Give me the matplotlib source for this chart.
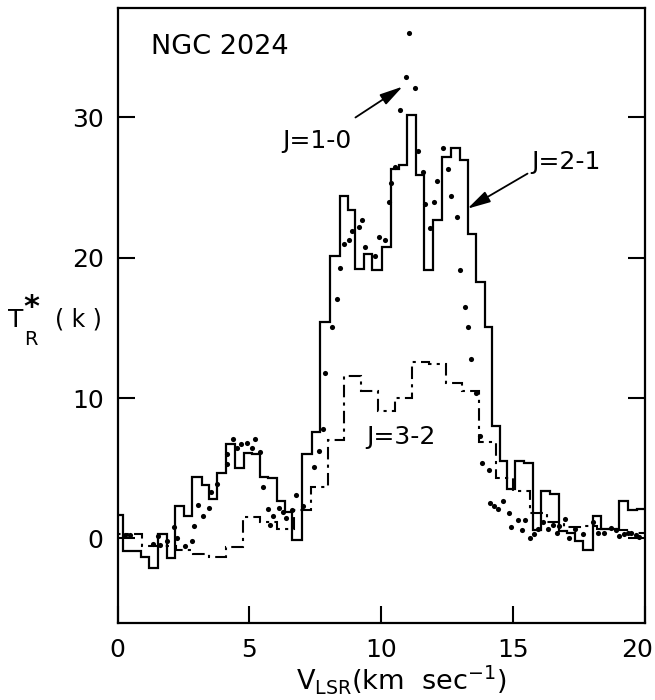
import matplotlib
matplotlib.use("Agg")
import matplotlib.pyplot as plt
from matplotlib.transforms import ScaledTranslation

plt.rcParams['font.family'] = ['DejaVu Sans']
plt.rcParams['mathtext.default'] = 'regular'

# J=2-1 spectrum (solid histogram): channel edges (km/s) and T_R* (K)
edges_21 = [-0.10, 0.22, 0.55, 0.88, 1.21, 1.53, 1.88, 2.20, 2.51, 2.84, 3.19,
            3.47, 3.79, 4.12, 4.45, 4.79, 5.10, 5.39, 5.72, 6.05, 6.37, 6.64,
            7.02, 7.39, 7.68, 8.05, 8.43, 8.75, 9.02, 9.34, 9.66, 10.04, 10.39,
            10.68, 10.98, 11.31, 11.65, 11.99, 12.31, 12.66, 12.98, 13.29, 13.59,
            13.93, 14.20, 14.50, 14.80, 15.10, 15.44, 15.76, 16.08, 16.40, 16.75,
            17.07, 17.36, 17.68, 18.03, 18.35, 18.70, 19.05, 19.37, 19.70, 20.10]
temp_21 = [1.7, -0.9, -0.9, -1.3, -2.1, 0.3, -1.4, 2.3, 1.6, 4.4,
           3.8, 2.8, 4.7, 6.7, 5.0, 6.1, 6.0, 4.4, 4.3, 2.7,
           1.9, -0.1, 6.0, 7.6, 15.4, 20.1, 24.4, 23.4, 19.2, 20.3,
           19.1, 20.8, 26.3, 26.6, 30.2, 25.9, 19.1, 22.7, 27.2, 27.8,
           27.0, 21.7, 18.3, 15.1, 8.0, 5.5, 3.5, 5.55, 5.4, 0.6,
           3.35, 3.2, 0.5, 0.4, -0.2, -0.8, 1.6, 0.7, 0.7, 2.7,
           2.0, 2.1]

# J=3-2 spectrum (dashed histogram)
edges_32 = [-0.35, 0.29, 0.93, 1.57, 2.21, 2.85, 3.49, 4.13, 4.77, 5.41, 6.05,
            6.69, 7.33, 7.97, 8.61, 9.25, 9.89, 10.53, 11.17, 11.81, 12.45,
            13.09, 13.73, 14.37, 15.01, 15.65, 16.29, 16.93, 17.57, 18.21,
            18.85, 19.49, 20.13]
temp_32 = [0.3, 0.3, -0.5, -0.5, -0.8, -1.1, -1.3, -0.6, 1.5, 1.2,
           0.7, 2.0, 3.7, 7.0, 11.6, 10.5, 9.1, 10.0, 12.6, 12.4,
           11.05, 10.5, 6.9, 4.3, 3.4, 1.8, 1.2, 0.85, 0.9, 0.7,
           0.6, 0.4]

# J=1-0 spectrum (dots)
vel_10 = [0.27, 0.46, 1.33, 1.52, 1.63, 1.88, 2.13, 2.26, 2.55, 2.83,
          2.91, 3.07, 3.26, 3.47, 3.55, 3.77, 4.15, 4.15, 4.39, 4.52,
          4.69, 4.92, 5.10, 5.23, 5.39, 5.53, 5.70, 5.77, 5.92, 6.12,
          6.29, 6.39, 6.62, 6.76, 7.05, 7.47, 7.64, 7.79,
          7.89, 8.15, 8.34, 8.46, 8.61, 8.80, 8.91, 9.16, 9.29, 9.41,
          9.79, 9.91, 10.15, 10.30, 10.39, 10.55, 10.74, 10.93, 11.08, 11.30,
          11.40, 11.59, 11.66, 11.85, 12.02, 12.14, 12.37, 12.56, 12.66, 12.88,
          12.98, 13.17, 13.29, 13.43, 13.60,
          13.75, 13.85, 14.08, 14.12, 14.28, 14.45, 14.64, 14.84, 14.94, 15.20,
          15.36, 15.46, 15.64, 15.81, 15.97, 16.15, 16.32, 16.52, 16.67, 16.77,
          17.00, 17.15, 17.37, 17.66, 18.03, 18.25, 18.48, 18.74, 18.90, 19.05,
          19.24, 19.37, 19.50, 19.68, 19.81]
temp_10 = [0.26, 0.26, -0.42, 0.17, -0.47, -0.15, 0.79, 0.07, -0.5, -0.17,
           0.92, 2.36, 1.6, 2.15, 3.3, 3.85, 5.3, 6.0, 7.07, 6.48,
           6.7, 6.8, 6.42, 7.07, 6.17, 3.7, 2.07, 0.98, 1.58, 2.2,
           1.88, 1.44, 2.02, 3.08, 2.3, 5.07, 6.2, 7.8,
           11.8, 15.1, 17.05, 19.3, 21.0, 21.3, 21.9, 22.2, 22.7, 20.8,
           20.1, 21.5, 21.3, 24.0, 25.3, 26.45, 30.5, 32.9, 36.0, 32.1,
           27.6, 26.1, 23.8, 22.1, 24.0, 25.5, 27.8, 26.3, 24.4, 22.9,
           19.1, 16.5, 15.1, 12.8, 10.4,
           7.3, 5.4, 4.85, 2.55, 2.3, 2.1, 2.65, 1.8, 0.83, 1.32,
           0.6, 1.3, 0.0, 0.35, 0.7, 1.15, 0.7, 0.98, 0.4, 0.86,
           1.42, 0.02, 0.7, 0.3, 1.2, 0.4, 0.4, 0.74, 0.6, 0.2,
           0.3, 0.4, 0.4, 0.26, 0.14]

x_ticks = [0, 5, 10, 15, 20]
y_ticks = [0, 10, 20, 30]

W, H = 655, 700
fig = plt.figure(figsize=(W / 100, H / 100), dpi=100)
ax = fig.add_axes([117.5 / W, 1 - 622.7 / H, 527.0 / W, 614.4 / H])

ax.stairs(temp_21, edges_21, baseline=None, color='black', lw=1.6)
ax.stairs(temp_32, edges_32, baseline=None, color='black', lw=1.5,
          linestyle=(0, (6, 2.5, 1.5, 2.5)))
ax.plot(vel_10, temp_10, 'o', color='black', ms=3.7, mew=0)

ax.set_xlim(0, 20)
ax.set_ylim(-6.0, 37.78)
ax.set_xticks(x_ticks)
ax.set_yticks(y_ticks)
ax.tick_params(axis='both', direction='in', length=12, width=1.5,
               labelsize=18)
ax.tick_params(axis='x', pad=11, top=False)
ax.tick_params(axis='y', pad=10, right=True)
for sp in ax.spines.values():
    sp.set_linewidth(1.6)

# keep the last velocity label inside the figure
last = ax.xaxis.get_major_ticks()[-1].label1
last.set_transform(last.get_transform()
                   + ScaledTranslation(-7 / 100, 0, fig.dpi_scale_trans))

txt = dict(fontsize=18, color='black')
ax.text(1.28, 34.5, 'NGC 2024', ha='left', va='baseline', fontsize=19.5)
ax.text(6.27, 27.86, 'J=1-0', ha='left', va='baseline', **txt)
ax.text(15.71, 26.36, 'J=2-1', ha='left', va='baseline', **txt)
ax.text(9.45, 6.7, 'J=3-2', ha='left', va='baseline', **txt)

arrow = dict(arrowstyle='-|>,head_length=0.7,head_width=0.18', color='black',
             lw=1.3, shrinkA=0, shrinkB=0, mutation_scale=20)
ax.annotate('', xy=(10.82, 32.2), xytext=(9.03, 30.0), arrowprops=arrow)
ax.annotate('', xy=(13.28, 23.5), xytext=(15.56, 26.0), arrowprops=arrow)


def ftext(px, py, s, **kw):
    fig.text(px / W, 1 - py / H, s, va='baseline', **kw)


# y-axis label T_R*(k), assembled from its parts
ftext(8, 327, 'T', fontsize=18)
ftext(24, 345, 'R', fontsize=14)
ftext(31, 316, '*', fontsize=22, fontweight='bold', ha='center')
ftext(55, 327, '( k )', fontsize=17)

fig.text(401 / W, 1 - 680 / H, r'$V_{LSR}$(km  sec$^{-1}$)', ha='center',
         va='center', fontsize=19.5)

fig.savefig('out.png', dpi=100)
